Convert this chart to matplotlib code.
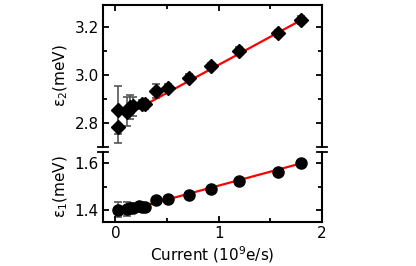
import matplotlib
matplotlib.use("Agg")
import matplotlib.pyplot as plt

# epsilon_2 (top panel)
cur2 = [0.03, 0.03, 0.11, 0.14, 0.17, 0.26, 0.29, 0.39, 0.51, 0.715, 0.927, 1.20, 1.578, 1.80]
eps2 = [2.785, 2.854, 2.847, 2.867, 2.87, 2.877, 2.877, 2.932, 2.947, 2.987, 3.035, 3.100, 3.172, 3.228]
err2 = [0.07, 0.10, 0.06, 0.05, 0.04, 0.02, 0.02, 0.03, 0.015, 0.015, 0.015, 0.015, 0.015, 0.015]

# epsilon_1 (bottom panel)
cur1 = [0.03, 0.11, 0.14, 0.17, 0.23, 0.26, 0.29, 0.39, 0.51, 0.715, 0.927, 1.20, 1.578, 1.80]
eps1 = [1.403, 1.405, 1.41, 1.41, 1.417, 1.415, 1.415, 1.443, 1.447, 1.464, 1.489, 1.523, 1.562, 1.599]
err1 = [0.03, 0.03, 0.02, 0.015, 0.01, 0.01, 0.01, 0.012, 0.012, 0.012, 0.012, 0.012, 0.012, 0.012]

# linear fits (x range and endpoints)
fit_x = [0.22, 1.80]
fit2 = [2.860, 3.228]
fit1 = [1.412, 1.599]

INK = "black"
ERR = "#555555"
RED = "#ff0000"
FS = 11

plt.rcParams["font.family"] = ["DejaVu Sans"]
fig = plt.figure(figsize=(4.16, 2.66), dpi=100)
ax2 = fig.add_axes([0.2476, 0.447, 0.5264, 0.534])
ax1 = fig.add_axes([0.2476, 0.1654, 0.5264, 0.2632])

for ax, x, y, e, fy, mk, ms in ((ax2, cur2, eps2, err2, fit2, "D", 7),
                                (ax1, cur1, eps1, err1, fit1, "o", 8)):
    ax.plot(fit_x, fy, color=RED, lw=1.6, zorder=2)
    ax.errorbar(x, y, yerr=e, fmt="none", ecolor=ERR, elinewidth=1.2,
                capsize=3, capthick=1.2, zorder=1)
    ax.plot(x, y, mk, color=INK, ms=ms, zorder=3, ls="none")
    ax.set_xlim(-0.12, 2.0)
    for sp in ax.spines.values():
        sp.set_linewidth(1.5)
    ax.tick_params(direction="in", which="both", width=1.3, labelsize=FS,
                   left=True, right=True, pad=3)
    ax.tick_params(which="major", length=4)
    ax.tick_params(which="minor", length=3)

ax2.set_ylim(2.70, 3.29)
ax2.set_yticks([2.8, 3.0, 3.2])
ax2.set_yticklabels(["2.8", "3.0", "3.2"])
ax2.set_yticks([2.9, 3.1], minor=True)
ax2.spines["bottom"].set_visible(False)
ax2.tick_params(bottom=False, labelbottom=False, top=True)
ax2.set_xticks([0, 1, 2])
ax2.set_xticks([0.5, 1.5], minor=True)
ax2.tick_params(which="minor", top=True, bottom=False)
ax2.set_ylabel("ε$_2$(meV)", fontsize=FS, labelpad=3)

ax1.set_ylim(1.35, 1.647)
ax1.set_yticks([1.4, 1.6])
ax1.set_yticklabels(["1.4", "1.6"])
ax1.set_yticks([1.5], minor=True)
ax1.spines["top"].set_visible(False)
ax1.set_xticks([0, 1, 2])
ax1.set_xticklabels(["0", "1", "2"])
ax1.set_xticks([0.5, 1.5], minor=True)
ax1.tick_params(top=False, which="both")
ax1.set_ylabel("ε$_1$(meV)", fontsize=FS, labelpad=3)
ax1.set_xlabel("Current (10$^9$e/s)", fontsize=FS, labelpad=2)
fig.align_ylabels([ax1, ax2])

# axis break marks
d = 0.025
for ax, yy in ((ax2, 0.0), (ax1, 1.0)):
    for xx in (0.0, 1.0):
        ax.plot([xx - d, xx + d], [yy, yy], transform=ax.transAxes,
                color=INK, lw=1.3, clip_on=False)

fig.savefig("out.png", facecolor="white")
